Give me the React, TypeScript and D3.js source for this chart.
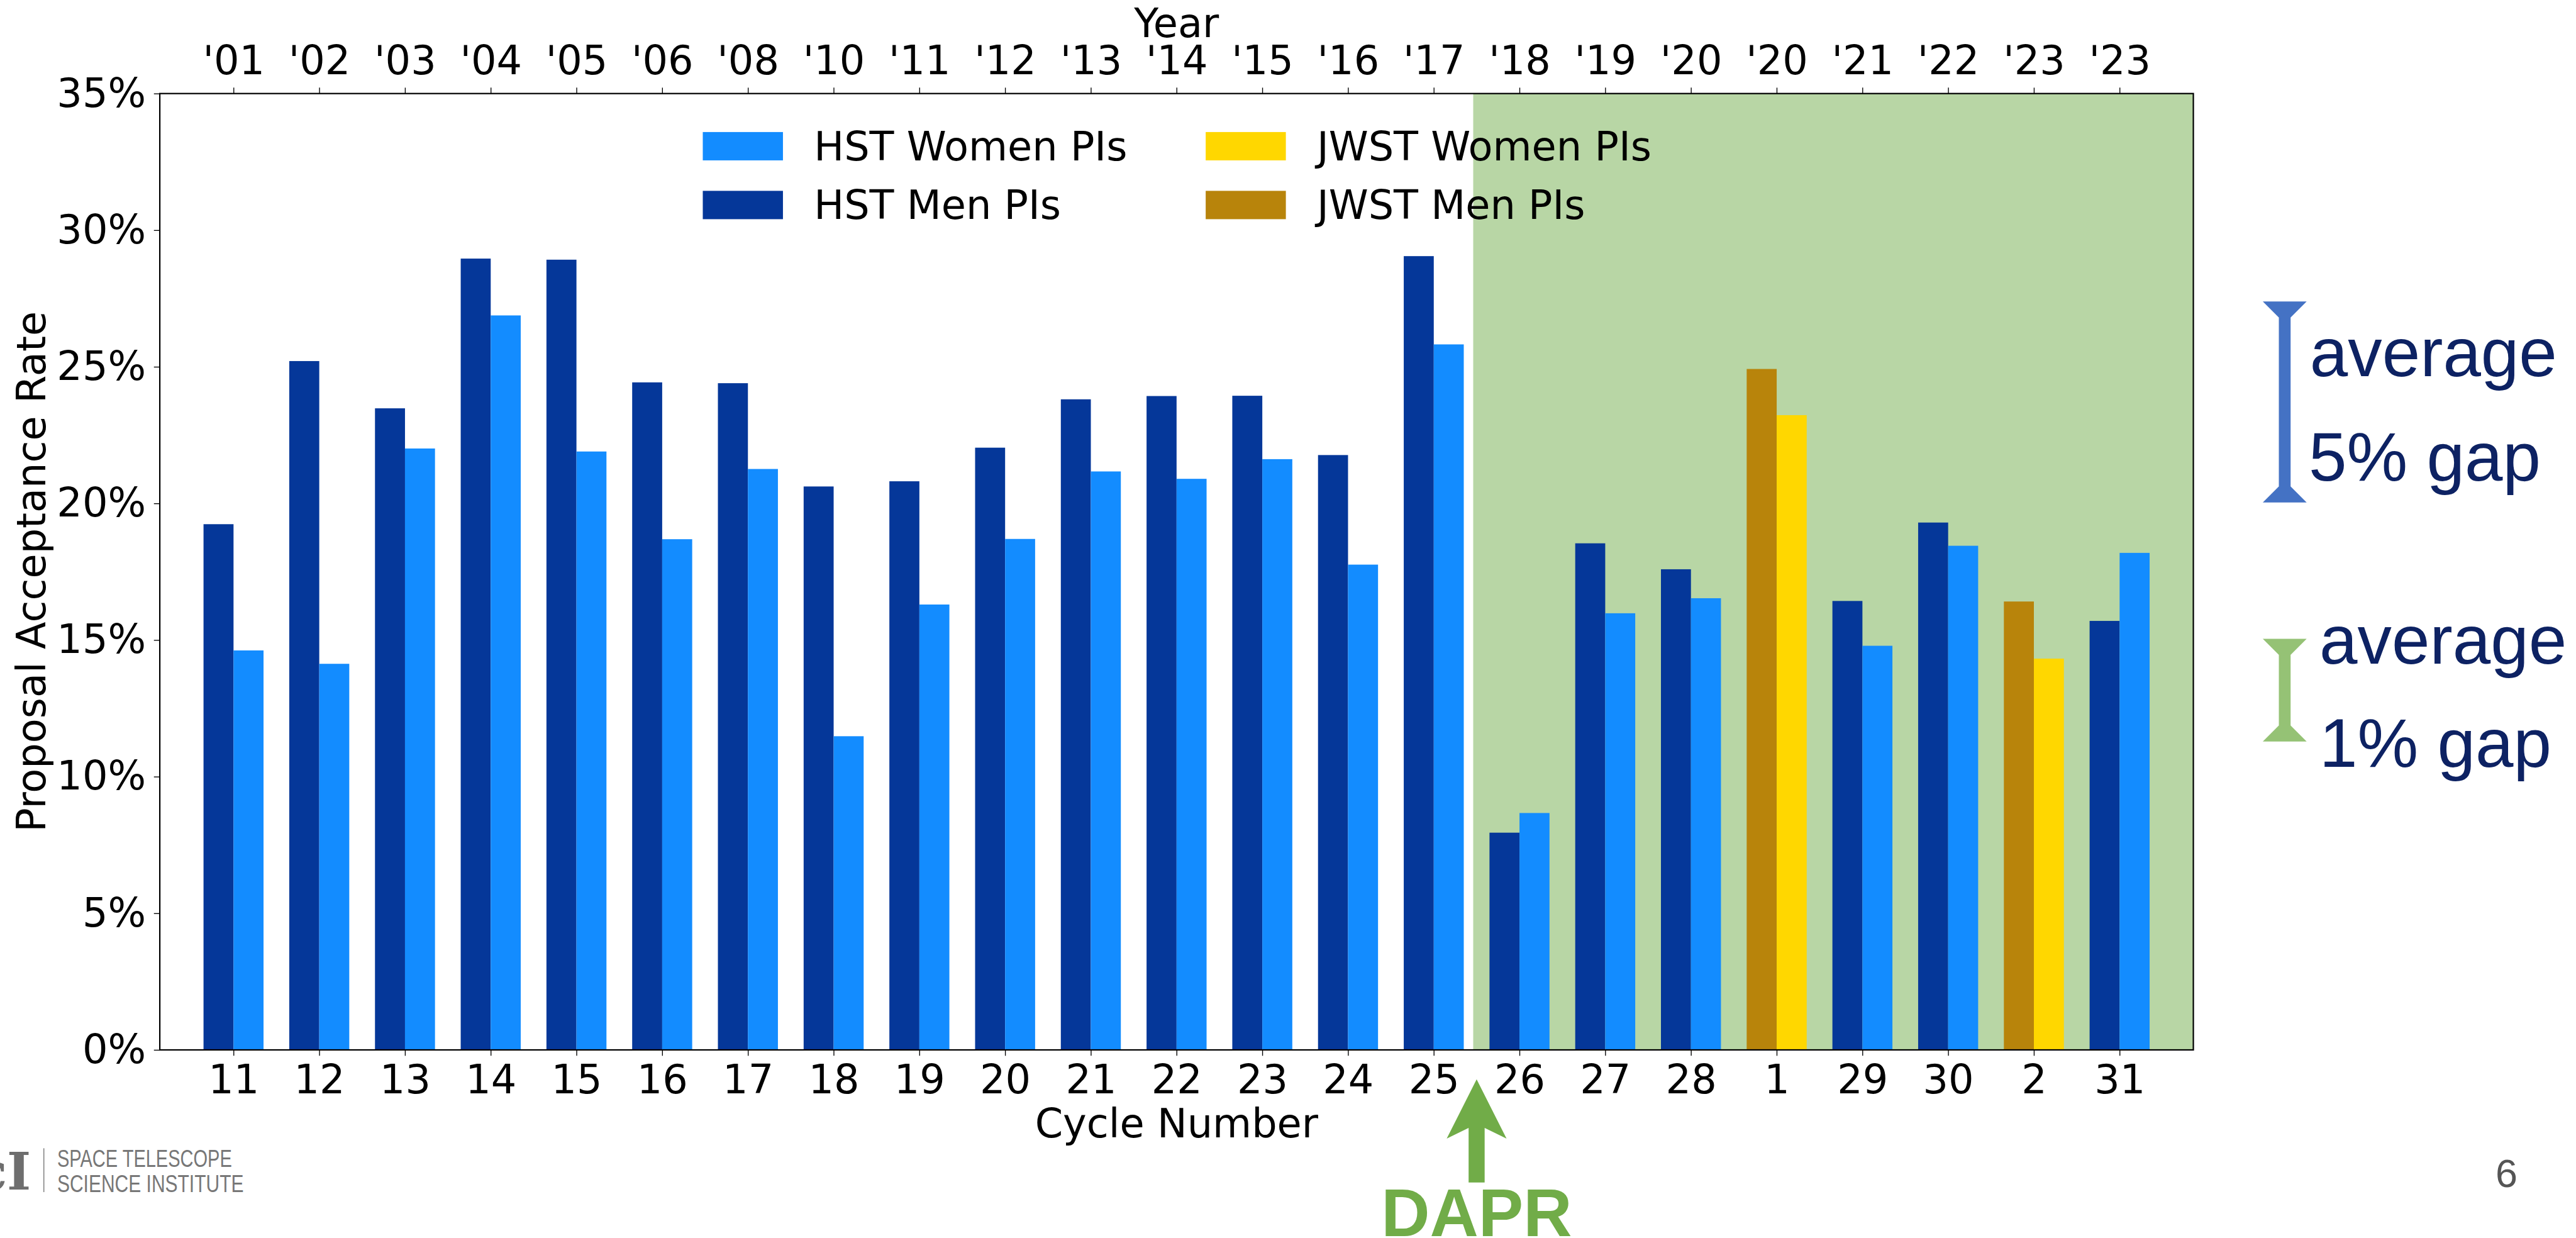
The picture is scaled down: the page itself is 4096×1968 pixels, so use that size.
import React, { useRef, useEffect } from "react";
import * as d3 from "d3";

// Chart data (acceptance rate in %)
const cycles = ["11", "12", "13", "14", "15", "16", "17", "18", "19", "20", "21", "22", "23", "24", "25", "26", "27", "28", "1", "29", "30", "2", "31"];
const years = ["'01", "'02", "'03", "'04", "'05", "'06", "'08", "'10", "'11", "'12", "'13", "'14", "'15", "'16", "'17", "'18", "'19", "'20", "'20", "'21", "'22", "'23", "'23"];
const telescope = ["HST", "HST", "HST", "HST", "HST", "HST", "HST", "HST", "HST", "HST", "HST", "HST", "HST", "HST", "HST", "HST", "HST", "HST", "JWST", "HST", "HST", "JWST", "HST"];
const menRate = [19.24, 25.21, 23.48, 28.96, 28.92, 24.43, 24.40, 20.62, 20.81, 22.04, 23.81, 23.93, 23.94, 21.77, 29.05, 7.95, 18.54, 17.59, 24.92, 16.43, 19.30, 16.41, 15.70];
const womenRate = [14.62, 14.13, 22.01, 26.88, 21.90, 18.69, 21.26, 11.48, 16.30, 18.70, 21.17, 20.90, 21.62, 17.76, 25.82, 8.67, 15.98, 16.53, 23.23, 14.79, 18.45, 14.32, 18.19];
const yTicks = [0, 5, 10, 15, 20, 25, 30, 35];
const dprStart = 14.46; // DAPR introduced between cycle 25 and 26

const legendItems = [
  { label: "HST Women PIs", key: "hstWomen" },
  { label: "HST Men PIs", key: "hstMen" },
  { label: "JWST Women PIs", key: "jwstWomen" },
  { label: "JWST Men PIs", key: "jwstMen" },
];

const colours = {
  hstMen: "#053799",
  hstWomen: "#138cff",
  jwstMen: "#b8840b",
  jwstWomen: "#ffd700",
  shade: "#b8d6a5",
  dapr: "#71ac48",
};

// reference is 4820 x 2316, window is 4096 x 1968
const REF_W = 4820;
const S = 4096 / REF_W;
const FONT = "DejaVu Sans";
const SLIDE_FONT = "Liberation Sans, Arial, Helvetica, sans-serif";

const App = () => {
  const svgRef = useRef(null);

  useEffect(() => {
    const svg = d3.select(svgRef.current);
    svg.selectAll("*").remove();

    const root = svg.append("g").attr("transform", `scale(${S})`);

    const plot = { left: 299, right: 4104, top: 175, bottom: 1964 };
    const barW = 0.35;

    const x = d3.scaleLinear().domain([-0.86, 22.86]).range([plot.left, plot.right]);
    const y = d3.scaleLinear().domain([0, 35]).range([plot.bottom, plot.top]);

    // DAPR shaded region
    root.append("rect")
      .attr("x", x(dprStart))
      .attr("y", plot.top)
      .attr("width", plot.right - x(dprStart))
      .attr("height", plot.bottom - plot.top)
      .attr("fill", colours.shade);

    // Bars
    const idx = d3.range(cycles.length);
    root.append("g").selectAll("rect.men")
      .data(idx)
      .join("rect")
      .attr("x", i => x(i - barW))
      .attr("width", x(barW) - x(0))
      .attr("y", i => y(menRate[i]))
      .attr("height", i => y(0) - y(menRate[i]))
      .attr("fill", i => telescope[i] === "JWST" ? colours.jwstMen : colours.hstMen);

    root.append("g").selectAll("rect.women")
      .data(idx)
      .join("rect")
      .attr("x", i => x(i))
      .attr("width", x(barW) - x(0))
      .attr("y", i => y(womenRate[i]))
      .attr("height", i => y(0) - y(womenRate[i]))
      .attr("fill", i => telescope[i] === "JWST" ? colours.jwstWomen : colours.hstWomen);

    // Axes
    const styleAxis = (g) => {
      g.select(".domain").remove();
      g.selectAll(".tick line").attr("stroke", "#000").attr("stroke-width", 1.6);
      g.selectAll(".tick text").attr("fill", "#000");
      g.attr("font-family", FONT).attr("font-size", 75);
    };

    root.append("g")
      .attr("transform", `translate(0, ${plot.bottom})`)
      .call(d3.axisBottom(x).tickValues(idx).tickFormat(i => cycles[i]).tickSize(11).tickPadding(17))
      .call(styleAxis);

    root.append("g")
      .attr("transform", `translate(0, ${plot.top})`)
      .call(d3.axisTop(x).tickValues(idx).tickFormat(i => years[i]).tickSize(11).tickPadding(25))
      .call(styleAxis);

    root.append("g")
      .attr("transform", `translate(${plot.left}, 0)`)
      .call(d3.axisLeft(y).tickValues(yTicks).tickFormat(d => `${d}%`).tickSize(11).tickPadding(15))
      .call(styleAxis);

    // Frame
    root.append("rect")
      .attr("x", plot.left)
      .attr("y", plot.top)
      .attr("width", plot.right - plot.left)
      .attr("height", plot.bottom - plot.top)
      .attr("fill", "none")
      .attr("stroke", "#000")
      .attr("stroke-width", 2.6);

    // Axis titles
    const midX = (plot.left + plot.right) / 2;
    root.append("text")
      .attr("x", midX).attr("y", 70)
      .attr("text-anchor", "middle")
      .attr("font-family", FONT).attr("font-size", 75)
      .text("Year");

    root.append("text")
      .attr("x", midX).attr("y", 2128)
      .attr("text-anchor", "middle")
      .attr("font-family", FONT).attr("font-size", 75)
      .text("Cycle Number");

    root.append("text")
      .attr("transform", `translate(85, ${(plot.top + plot.bottom) / 2}) rotate(-90)`)
      .attr("text-anchor", "middle")
      .attr("font-family", FONT).attr("font-size", 75)
      .text("Proposal Acceptance Rate");

    // Legend
    const legend = root.append("g").attr("font-family", FONT).attr("font-size", 75);
    legendItems.forEach((item, i) => {
      const col = Math.floor(i / 2), row = i % 2;
      const lx = 1315 + col * 941;
      const ly = 247 + row * 110;
      legend.append("rect")
        .attr("x", lx).attr("y", ly)
        .attr("width", 150).attr("height", 53)
        .attr("fill", colours[item.key]);
      legend.append("text")
        .attr("x", lx + 208).attr("y", ly + 53)
        .text(item.label);
    });

    // DAPR arrow + label
    const ax = x(14.5);
    const arrow = d3.path();
    arrow.moveTo(ax, 2019);
    arrow.lineTo(ax + 56, 2130);
    arrow.lineTo(ax + 15, 2110);
    arrow.lineTo(ax + 15, 2212);
    arrow.lineTo(ax - 15, 2212);
    arrow.lineTo(ax - 15, 2110);
    arrow.lineTo(ax - 56, 2130);
    arrow.closePath();
    root.append("path").attr("d", arrow.toString()).attr("fill", colours.dapr);

    root.append("text")
      .attr("x", ax).attr("y", 2312)
      .attr("text-anchor", "middle")
      .attr("font-family", SLIDE_FONT).attr("font-weight", "bold").attr("font-size", 126)
      .attr("fill", colours.dapr)
      .text("DAPR");

    // Gap annotations on the right
    const ibeam = (cx, top, bottom, colour) => {
      const p = d3.path();
      const half = 41, stem = 11, flare = 30;
      p.moveTo(cx - half, top);
      p.lineTo(cx + half, top);
      p.lineTo(cx + stem, top + flare);
      p.lineTo(cx + stem, bottom - flare);
      p.lineTo(cx + half, bottom);
      p.lineTo(cx - half, bottom);
      p.lineTo(cx - stem, bottom - flare);
      p.lineTo(cx - stem, top + flare);
      p.closePath();
      root.append("path").attr("d", p.toString()).attr("fill", colour);
    };
    ibeam(4275, 564, 940, "#4472c4");
    ibeam(4275, 1195, 1387, "#95c275");

    const note = (tx, ty, txt) => root.append("text")
      .attr("x", tx).attr("y", ty)
      .attr("font-family", SLIDE_FONT).attr("font-size", 128)
      .attr("fill", "#0d2263")
      .text(txt);
    note(4322, 704, "average");
    note(4320, 899, "5% gap");
    note(4340, 1242, "average");
    note(4340, 1435, "1% gap");

    // Footer: logo text and page number
    root.append("text")
      .attr("x", 58).attr("y", 2225)
      .attr("text-anchor", "end")
      .attr("font-family", "DejaVu Serif").attr("font-weight", "bold").attr("font-size", 96)
      .attr("fill", "#6e6e6e")
      .text("cI");
    root.append("line")
      .attr("x1", 82).attr("x2", 82).attr("y1", 2148).attr("y2", 2230)
      .attr("stroke", "#8a8a8a").attr("stroke-width", 2);
    root.append("text")
      .attr("x", 107).attr("y", 2183)
      .attr("font-family", SLIDE_FONT).attr("font-size", 45)
      .attr("textLength", 327).attr("lengthAdjust", "spacingAndGlyphs")
      .attr("fill", "#777")
      .text("SPACE TELESCOPE");
    root.append("text")
      .attr("x", 107).attr("y", 2230)
      .attr("font-family", SLIDE_FONT).attr("font-size", 45)
      .attr("textLength", 349).attr("lengthAdjust", "spacingAndGlyphs")
      .attr("fill", "#777")
      .text("SCIENCE INSTITUTE");

    root.append("text")
      .attr("x", 4690).attr("y", 2220)
      .attr("text-anchor", "middle")
      .attr("font-family", SLIDE_FONT).attr("font-size", 74)
      .attr("fill", "#555")
      .text("6");
  }, []);

  return (
    <svg
      ref={svgRef}
      width={4096}
      height={1968}
      style={{ position: "fixed", left: 0, top: 0, background: "#fff", display: "block" }}
    />
  );
};

export default App;
